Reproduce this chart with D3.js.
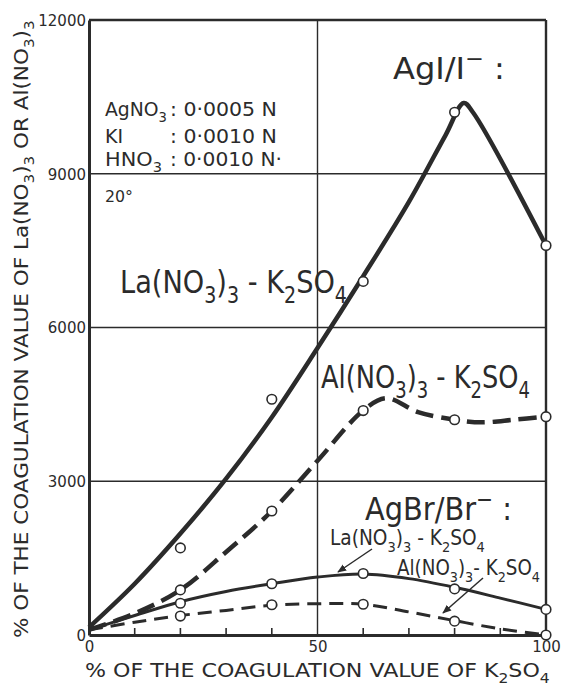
<!DOCTYPE html>
<html>
<head>
<meta charset="utf-8">
<script src="https://cdn.jsdelivr.net/npm/d3@7"></script>
<style>
  html, body { margin: 0; padding: 0; background: #fff; }
  svg { display: block; }
  text { font-family: "DejaVu Sans", sans-serif; fill: #2b2b2b; }
</style>
</head>
<body>
<svg id="chart" width="562" height="687"></svg>
<script>
// Percent of the K2SO4 coagulation value at which each mixture was measured
const measuredPct = [20, 40, 60, 80, 100];

// Measured points (% of the coagulation value of the trivalent nitrate)
const laAgI  = [1700, 4600, 6900, 10200, 7600];
const alAgI  = [880, 2420, 4380, 4200, 4260];
const laAgBr = [620, 1000, 1200, 900, 500];
const alAgBr = [370, 590, 600, 270, 0];

// Hand-drawn fitted curves: [% K2SO4, % trivalent salt]
const laAgICurve = [[0,150],[10,1000],[20,1980],[30,3050],[40,4250],[50,5600],[60,7000],[70,8450],[78,9750],[82,10380],[84,10200],[100,7600]];
const alAgICurve = [[0,100],[10,420],[20,880],[30,1620],[40,2420],[50,3400],[60,4380],[65,4620],[72,4350],[80,4200],[86,4150],[93,4200],[100,4260]];
const laAgBrCurve = [[0,100],[10,380],[20,650],[30,850],[40,1000],[50,1130],[60,1190],[70,1100],[80,930],[90,720],[100,500]];
const alAgBrCurve = [[0,100],[10,250],[20,380],[30,480],[40,580],[50,610],[60,600],[70,450],[80,280],[90,120],[100,0]];

// Axis ticks
const yTicks = [0, 3000, 6000, 9000, 12000];
const xLabelTicks = [0, 50, 100];
const xMinorTicks = [10, 20, 30, 40, 60, 70, 80, 90];

const ink = "#2b2b2b";
const svg = d3.select("#chart");

const x = d3.scaleLinear().domain([0, 100]).range([89, 546]);
const y = d3.scaleLinear().domain([0, 12000]).range([635, 20]);

// Frame and grid
const grid = svg.append("g");
grid.selectAll("line.h").data([3000, 6000, 9000]).join("line")
  .attr("x1", x(0)).attr("x2", x(100))
  .attr("y1", d => y(d)).attr("y2", d => y(d))
  .attr("stroke", ink).attr("stroke-width", 1.4);
grid.append("line")
  .attr("x1", x(50)).attr("x2", x(50)).attr("y1", y(0)).attr("y2", y(12000))
  .attr("stroke", ink).attr("stroke-width", 1.4);
grid.append("line") // top border
  .attr("x1", x(0)).attr("x2", x(100)).attr("y1", y(12000)).attr("y2", y(12000))
  .attr("stroke", ink).attr("stroke-width", 2.4);
grid.append("line") // right border
  .attr("x1", x(100)).attr("x2", x(100)).attr("y1", y(12000)).attr("y2", y(0) + 1)
  .attr("stroke", ink).attr("stroke-width", 2.4);

// Axes
const yAxis = d3.axisLeft(y).tickValues(yTicks).tickSize(0).tickPadding(3).tickFormat(d3.format("d"));
const gy = svg.append("g").attr("transform", `translate(${x(0)},0)`).call(yAxis);
gy.select(".domain").attr("stroke", ink).attr("stroke-width", 3);
gy.selectAll(".tick text").attr("font-size", 15).attr("fill", ink).attr("dy", "0.36em");

const xAxis = d3.axisBottom(x).tickValues(xLabelTicks).tickSize(0).tickPadding(6).tickFormat(d3.format("d"));
const gx = svg.append("g").attr("transform", `translate(0,${y(0)})`).call(xAxis);
gx.select(".domain").attr("stroke", ink).attr("stroke-width", 3);
gx.selectAll(".tick text").attr("font-size", 15).attr("fill", ink);

// Small inward ticks along the K2SO4 axis
svg.append("g").selectAll("line").data(xMinorTicks).join("line")
  .attr("x1", d => x(d)).attr("x2", d => x(d))
  .attr("y1", y(0)).attr("y2", y(0) - 7)
  .attr("stroke", ink).attr("stroke-width", 1.6);

// Curves
const line = d3.line().x(d => x(d[0])).y(d => y(d[1])).curve(d3.curveCatmullRom.alpha(0.5));
const curves = [
  { data: laAgICurve, width: 4.5, dash: null },
  { data: alAgICurve, width: 4.5, dash: "18 8" },
  { data: laAgBrCurve, width: 3, dash: null },
  { data: alAgBrCurve, width: 3, dash: "14 8" }
];
svg.append("g").selectAll("path").data(curves).join("path")
  .attr("d", d => line(d.data))
  .attr("fill", "none").attr("stroke", ink)
  .attr("stroke-width", d => d.width)
  .attr("stroke-linecap", "butt")
  .attr("stroke-dasharray", d => d.dash);

// Measured points as open circles
const seriesPoints = [laAgI, alAgI, laAgBr, alAgBr];
const pts = seriesPoints.flatMap(s => s.map((v, i) => [measuredPct[i], v]));
svg.append("g").selectAll("circle").data(pts).join("circle")
  .attr("cx", d => x(d[0])).attr("cy", d => y(d[1])).attr("r", 4.8)
  .attr("fill", "#fff").attr("stroke", ink).attr("stroke-width", 1.6);

// Rich text helper: parts are [string, "sub" | "sup" | undefined]
function rich(parent, px, py, parts, size, width, rotate) {
  const t = parent.append("text").attr("x", px).attr("y", py).attr("font-size", size);
  let off = 0;
  parts.forEach(([s, kind]) => {
    const target = kind === "sub" ? size * 0.32 : kind === "sup" ? -size * 0.42 : 0;
    const ts = t.append("tspan").text(s).attr("dy", target - off);
    if (kind) ts.attr("font-size", size * 0.7);
    off = target;
  });
  if (width) {
    const w = t.node().getComputedTextLength();
    const sx = width / w;
    const rot = rotate ? `rotate(${rotate},${px},${py}) ` : "";
    t.attr("transform", `${rot}translate(${px},${py}) scale(${sx},1) translate(${-px},${-py})`);
  } else if (rotate) {
    t.attr("transform", `rotate(${rotate},${px},${py})`);
  }
  return t;
}

const labels = svg.append("g");

// Axis titles
rich(labels, 85, 677, [["% OF THE COAGULATION VALUE OF K"], ["2", "sub"], ["SO"], ["4", "sub"]], 19, 465);
rich(labels, 28, 638, [["% OF THE COAGULATION VALUE OF La(NO"], ["3", "sub"], [")"], ["3", "sub"],
  [" OR Al(NO"], ["3", "sub"], [")"], ["3", "sub"]], 19, 618, -90);

// Experimental conditions
rich(labels, 105, 116, [["AgNO"], ["3", "sub"]], 19, 62);
rich(labels, 105, 143, [["KI"]], 19);
rich(labels, 105, 166, [["HNO"], ["3", "sub"]], 19, 57);
rich(labels, 170, 116, [[": 0·0005 N"]], 19, 107);
rich(labels, 170, 143, [[": 0·0010 N"]], 19, 107);
rich(labels, 170, 166, [[": 0·0010 N·"]], 19, 112);
rich(labels, 105, 202, [["20°"]], 15, 28);

// Sol and electrolyte-pair labels
rich(labels, 393, 79, [["AgI/I"], ["−", "sup"], [" :"]], 31, 112);
rich(labels, 120, 293, [["La(NO"], ["3", "sub"], [")"], ["3", "sub"], [" - K"], ["2", "sub"], ["SO"], ["4", "sub"]], 32, 227);
rich(labels, 321, 388, [["Al(NO"], ["3", "sub"], [")"], ["3", "sub"], [" - K"], ["2", "sub"], ["SO"], ["4", "sub"]], 32, 209);
rich(labels, 365, 520, [["AgBr/Br"], ["−", "sup"], [" :"]], 32, 147);
rich(labels, 330, 545, [["La(NO"], ["3", "sub"], [")"], ["3", "sub"], [" - K"], ["2", "sub"], ["SO"], ["4", "sub"]], 21, 155);
rich(labels, 397, 575, [["Al(NO"], ["3", "sub"], [")"], ["3", "sub"], ["- K"], ["2", "sub"], ["SO"], ["4", "sub"]], 21, 143);

// Leader arrows from the small labels to their curves
svg.append("defs").append("marker")
  .attr("id", "arrow").attr("viewBox", "0 0 10 10").attr("refX", 9).attr("refY", 5)
  .attr("markerWidth", 9).attr("markerHeight", 9).attr("markerUnits", "userSpaceOnUse")
  .attr("orient", "auto")
  .append("path").attr("d", "M0,1 L10,5 L0,9 Z").attr("fill", ink);
const arrows = [
  [[372, 549], [338, 572]],
  [[483, 578], [443, 613]]
];
svg.append("g").selectAll("line").data(arrows).join("line")
  .attr("x1", d => d[0][0]).attr("y1", d => d[0][1])
  .attr("x2", d => d[1][0]).attr("y2", d => d[1][1])
  .attr("stroke", ink).attr("stroke-width", 1.5).attr("marker-end", "url(#arrow)");
</script>
</body>
</html>
